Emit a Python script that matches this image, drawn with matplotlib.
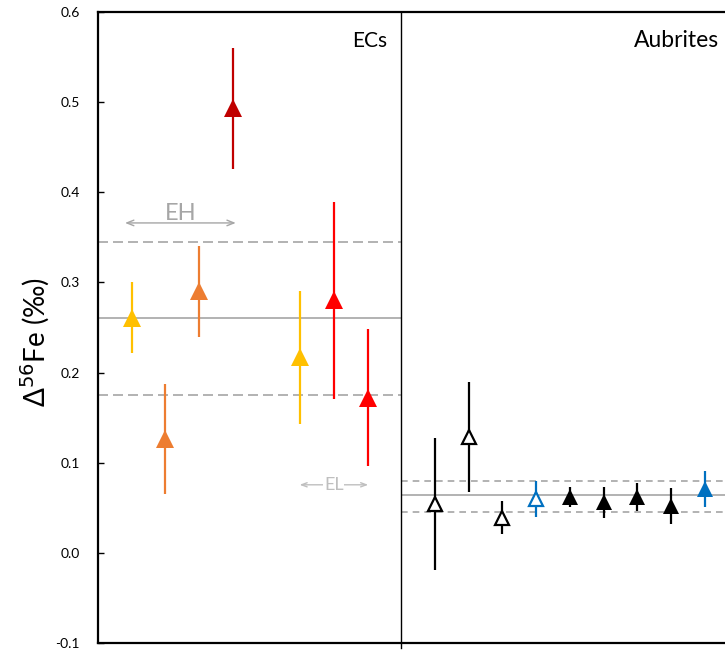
import matplotlib
matplotlib.use("Agg")
import matplotlib.pyplot as plt

plt.rcParams['font.family'] = ['Lato', 'DejaVu Sans']

# Enstatite chondrites (ECs)
ec_x = [1, 2, 3, 4, 6, 7, 8]
ec_val = [0.261, 0.126, 0.290, 0.493, 0.217, 0.280, 0.172]
ec_err = [0.039, 0.061, 0.050, 0.067, 0.074, 0.109, 0.076]
ec_colors = ['#FFC000', '#ED7D31', '#ED7D31', '#C00000', '#FFC000', '#FF0000', '#FF0000']

# Aubrites
aub_x = [10, 11, 12, 13, 14, 15, 16, 17, 18]
aub_val = [0.054, 0.128, 0.039, 0.060, 0.062, 0.056, 0.062, 0.052, 0.071]
aub_err = [0.073, 0.061, 0.018, 0.020, 0.011, 0.017, 0.016, 0.020, 0.020]
aub_colors = ['black', 'black', 'black', '#0070C0', 'black', 'black', 'black', 'black', '#0070C0']
aub_open = [True, True, True, True, False, False, False, False, False]

# Group means and spreads
eh_mean, eh_lo, eh_hi = 0.261, 0.175, 0.345
aub_mean, aub_lo, aub_hi = 0.064, 0.045, 0.080

yticks = [-0.1, 0.0, 0.1, 0.2, 0.3, 0.4, 0.5, 0.6]

fig = plt.figure(figsize=(7.25, 6.53), dpi=100)
ax = fig.add_axes([98 / 725, 10 / 653, 19.5 * 33.7 / 725, 631 / 653])
ax.set_xlim(0, 19.5)
ax.set_ylim(-0.1, 0.6)

grey = '#A6A6A6'
# EC reference lines
ax.hlines(eh_mean, 0, 9, color=grey, lw=1.2, zorder=1)
ax.hlines([eh_lo, eh_hi], 0, 9, color=grey, lw=1.2, linestyles=(0, (6, 3)), zorder=1)
# Aubrite reference lines
ax.hlines(aub_mean, 9, 19.5, color=grey, lw=1.2, zorder=1)
ax.hlines([aub_lo, aub_hi], 9, 19.5, color=grey, lw=1.2, linestyles=(0, (4, 3)), zorder=1)

# Divider between groups
ax.axvline(9, ymin=-0.008, ymax=1, color='black', lw=1, clip_on=False, zorder=2)

for x, v, e, c in zip(ec_x, ec_val, ec_err, ec_colors):
    ax.errorbar(x, v, yerr=e, fmt='^', color=c, ecolor=c, elinewidth=1.6,
                capsize=0, markersize=12.5, markeredgewidth=0, zorder=3)

for x, v, e, c, o in zip(aub_x, aub_val, aub_err, aub_colors, aub_open):
    ax.errorbar(x, v, yerr=e, fmt='^', color=c, ecolor=c, elinewidth=1.6,
                capsize=0, markersize=10.5 if o else 11.5,
                markerfacecolor='white' if o else c,
                markeredgecolor=c, markeredgewidth=1.6 if o else 0, zorder=3)

# EH / EL range labels
ax.annotate('', xy=(0.72, 0.366), xytext=(4.17, 0.366),
            arrowprops=dict(arrowstyle='<->,head_length=0.5,head_width=0.2', color=grey, lw=1))
ax.text(2.45, 0.377, 'EH', color=grey, fontsize=17, ha='center', va='center')
ax.annotate('', xy=(5.9, 0.0755), xytext=(8.1, 0.0755),
            arrowprops=dict(arrowstyle='<->,head_length=0.4,head_width=0.15', color='#BFBFBF', lw=1))
ax.text(7.0, 0.0755, 'EL', color='#BFBFBF', fontsize=13, ha='center', va='center',
        bbox=dict(facecolor='white', edgecolor='none', pad=0.5))

ax.text(8.57, 0.561, 'ECs', fontsize=15, ha='right', va='baseline')
ax.text(15.9, 0.561, 'Aubrites', fontsize=16.5, ha='left', va='baseline')

ax.set_yticks(yticks)
ax.set_yticklabels([f'{t:.1f}' for t in yticks])
ax.set_xticks([])
ax.tick_params(axis='y', direction='in', length=4, width=1, pad=13, labelsize=10)
for s in ['left', 'bottom', 'top']:
    ax.spines[s].set_linewidth(1.6)
ax.spines['right'].set_visible(False)

fig.text(35 / 725, 1 - 342 / 653, 'Δ$^{56}$Fe (‰)', rotation=90, fontsize=20,
         ha='center', va='center')

fig.savefig('out.png', dpi=100)
